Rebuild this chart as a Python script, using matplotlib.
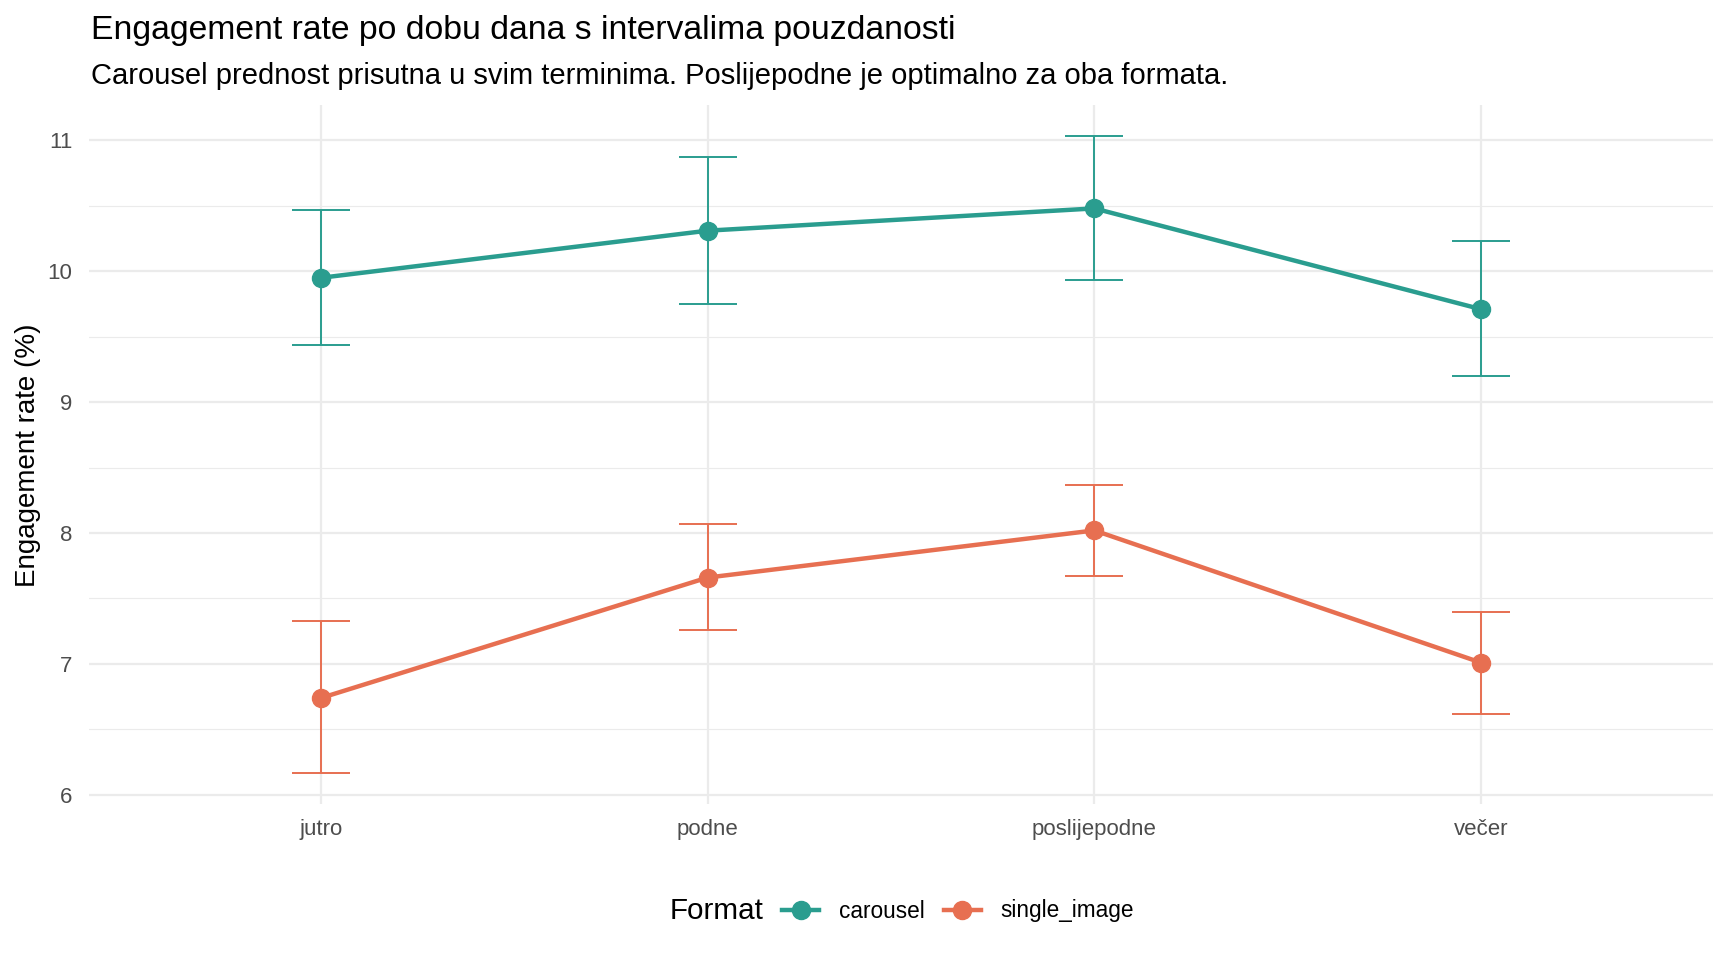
import matplotlib
matplotlib.use("Agg")
import matplotlib.pyplot as plt
from matplotlib.lines import Line2D
import numpy as np

plt.rcParams["font.family"] = ["Liberation Sans", "DejaVu Sans"]

times = ["jutro", "podne", "poslijepodne", "večer"]

carousel_mean = [9.95, 10.31, 10.48, 9.71]
carousel_low = [9.44, 9.75, 9.93, 9.20]
carousel_high = [10.47, 10.87, 11.03, 10.23]

single_mean = [6.74, 7.66, 8.02, 7.01]
single_low = [6.17, 7.26, 7.67, 6.62]
single_high = [7.33, 8.07, 8.37, 7.40]

teal = "#2A9D8F"
orange = "#E76F51"

fig = plt.figure(figsize=(17.28, 9.6), dpi=100)
ax = fig.add_axes([89 / 1728, 1 - 804 / 960, (1713 - 89) / 1728, (804 - 105) / 960])

x = np.arange(1, len(times) + 1)
cap = 0.075

for mean, low, high, color, label in [
    (carousel_mean, carousel_low, carousel_high, teal, "carousel"),
    (single_mean, single_low, single_high, orange, "single_image"),
]:
    ax.vlines(x, low, high, color=color, lw=1.4, zorder=2)
    ax.hlines(low, x - cap, x + cap, color=color, lw=1.4, zorder=2)
    ax.hlines(high, x - cap, x + cap, color=color, lw=1.4, zorder=2)
    ax.plot(x, mean, color=color, lw=3.2, zorder=3)
    ax.plot(x, mean, "o", color=color, ms=13, zorder=4)

ax.set_xlim(0.4, 4.6)
ax.set_ylim(5.93, 11.27)
ax.set_xticks(x)
ax.set_xticklabels(times)
ax.set_yticks([6, 7, 8, 9, 10, 11])
ax.set_yticks([6.5, 7.5, 8.5, 9.5, 10.5], minor=True)

ax.grid(True, which="major", color="#EBEBEB", lw=1.6)
ax.grid(True, which="minor", axis="y", color="#EBEBEB", lw=0.8)
ax.set_axisbelow(True)
for s in ax.spines.values():
    s.set_visible(False)
ax.tick_params(which="both", length=0, labelsize=16, colors="#4D4D4D", pad=11)
ax.tick_params(axis="y", pad=12)

fig.text(28 / 1728, 1 - 455 / 960, "Engagement rate (%)", rotation=90,
         fontsize=20, ha="center", va="center")

fig.text(91 / 1728, 1 - 30 / 960, "Engagement rate po dobu dana s intervalima pouzdanosti",
         fontsize=24.3, ha="left", va="center")
fig.text(91 / 1728, 1 - 76 / 960,
         "Carousel prednost prisutna u svim terminima. Poslijepodne je optimalno za oba formata.",
         fontsize=21, ha="left", va="center")

# legend
fig.text(763 / 1728, 1 - 911 / 960, "Format", fontsize=21.3, ha="right", va="center")
handles = [
    Line2D([], [], color=teal, lw=3.2, marker="o", ms=13),
    Line2D([], [], color=orange, lw=3.2, marker="o", ms=13),
]
fig.legend(handles, ["carousel", "single_image"], loc="center left",
           bbox_to_anchor=(782 / 1728, 1 - 911 / 960), ncol=2, frameon=False,
           fontsize=16.3, handlelength=1.65, handletextpad=0.85, columnspacing=0.85,
           borderpad=0, borderaxespad=0)

fig.savefig("out.png", dpi=100)
